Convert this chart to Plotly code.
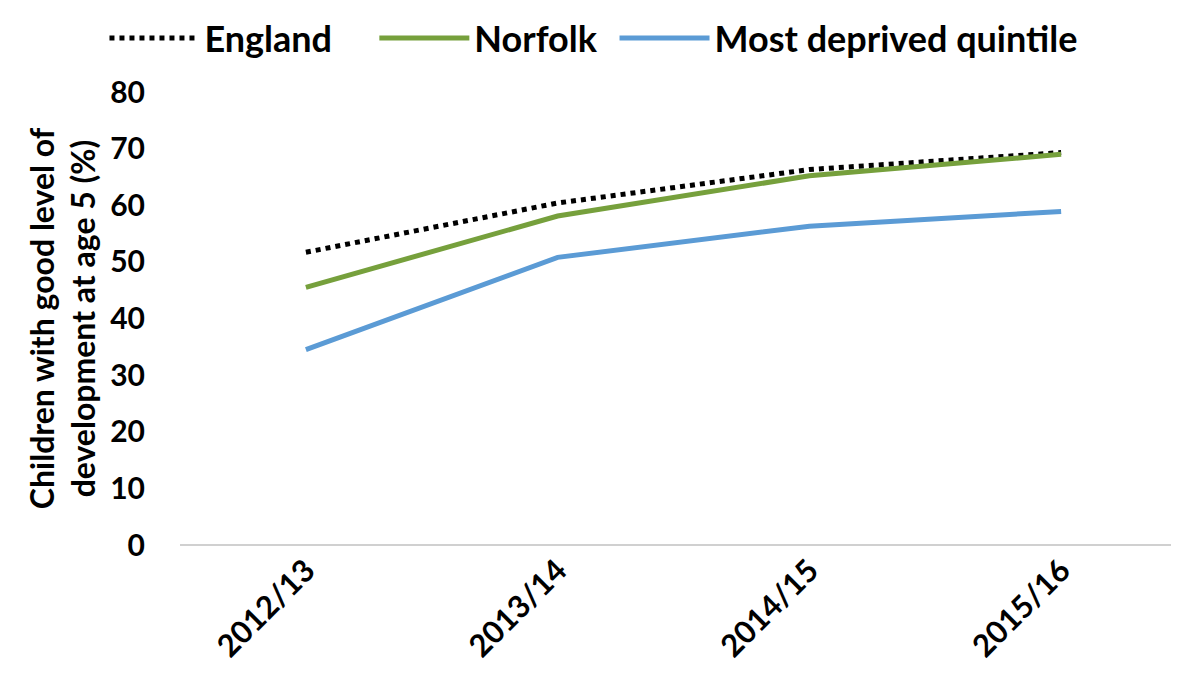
import plotly.graph_objects as go

categories = ["2012/13", "2013/14", "2014/15", "2015/16"]
england = [51.7, 60.4, 66.3, 69.3]
norfolk = [45.5, 58.1, 65.2, 69.0]
deprived = [34.5, 50.8, 56.3, 58.9]
y_ticks = [0, 10, 20, 30, 40, 50, 60, 70, 80]

FONT = "Lato"

fig = go.Figure()
fig.add_trace(go.Scatter(x=categories, y=england, name="England", mode="lines",
                         line=dict(color="black", width=5, dash="dot"), legend="legend"))
fig.add_trace(go.Scatter(x=categories, y=norfolk, name="Norfolk", mode="lines",
                         line=dict(color="#76a03c", width=5), legend="legend2"))
fig.add_trace(go.Scatter(x=categories, y=deprived, name="Most deprived quintile", mode="lines",
                         line=dict(color="#5b9bd5", width=5), legend="legend3"))

leg_common = dict(orientation="h", xanchor="left", y=1.185, yanchor="top",
                  font=dict(size=36, family=FONT, weight="bold"), itemwidth=90,
                  bgcolor="rgba(0,0,0,0)")

fig.update_layout(
    width=1179, height=691,
    paper_bgcolor="white", plot_bgcolor="white",
    margin=dict(l=172, r=0, t=84, b=154, autoexpand=False),
    font=dict(family=FONT, color="black", size=30, weight="bold"),
    legend=dict(x=-0.075, **leg_common),
    legend2=dict(x=0.193, **leg_common),
    legend3=dict(x=0.4315, **leg_common),
    showlegend=True,
)
fig.update_xaxes(showgrid=False, showline=False, zeroline=False, tickangle=-45,
                 tickfont=dict(size=31, family=FONT, weight="bold"), ticks="",
                 range=[-0.5, 3.5], automargin=False)
fig.update_yaxes(range=[0, 80], tickvals=y_ticks, showgrid=False, zeroline=True,
                 zerolinecolor="#d0d0d0", zerolinewidth=2, showline=False,
                 tickfont=dict(size=30, family=FONT, weight="bold"), ticks="",
                 ticklabelstandoff=34, automargin=False,
                 title=dict(text="Children with good level of<br>development at age 5 (%)",
                            font=dict(size=32, family=FONT, weight="bold"), standoff=4))

fig.write_html("out.html")
